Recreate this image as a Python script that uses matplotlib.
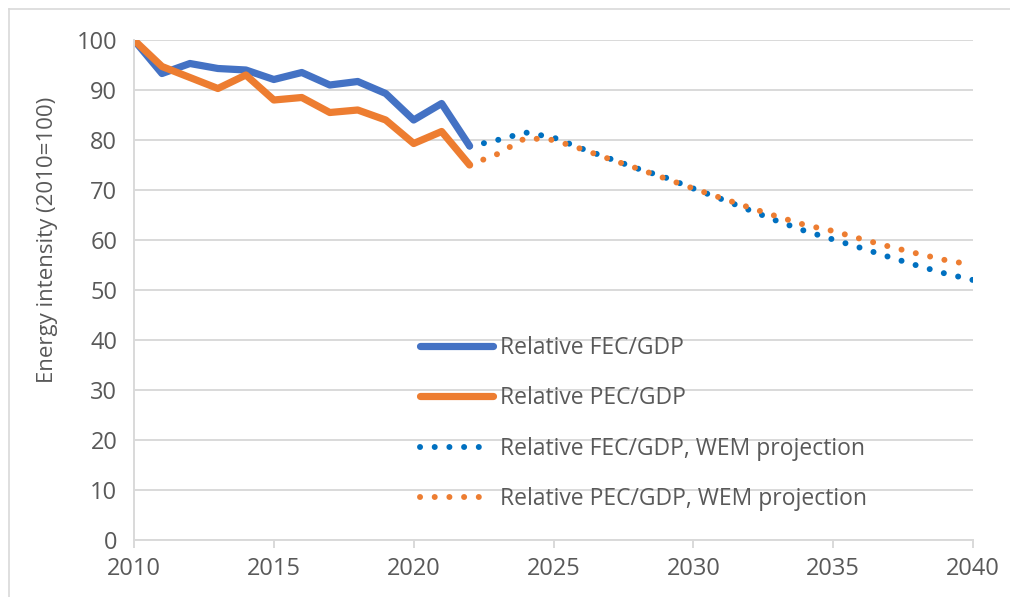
import matplotlib.pyplot as plt
from matplotlib.lines import Line2D

# historical series, 2010-2022
hist_years = list(range(2010, 2023))
fec_gdp = [100, 93.3, 95.3, 94.3, 94.0, 92.1, 93.5, 91.0, 91.7, 89.3, 84.0, 87.3, 78.8]
pec_gdp = [100, 94.7, 92.5, 90.3, 93.0, 88.0, 88.5, 85.5, 86.0, 84.0, 79.3, 81.7, 75.0]

# WEM projection, 2022-2040
proj_years = list(range(2022, 2041))
fec_wem = [78.7, 80.0, 81.5, 80.5, 78.3, 76.3, 74.3, 72.5, 70.3, 68.2, 66.0,
           63.8, 61.8, 60.1, 58.4, 56.6, 54.9, 53.3, 52.0]
pec_wem = [75.0, 77.2, 80.4, 80.0, 78.2, 76.2, 74.3, 72.3, 70.3, 68.4, 66.5,
           64.7, 63.0, 61.8, 60.2, 58.7, 57.3, 56.0, 55.0]

labels = ["Relative FEC/GDP", "Relative PEC/GDP",
          "Relative FEC/GDP, WEM projection", "Relative PEC/GDP, WEM projection"]

blue = '#4472C4'
blue_dot = '#0070C0'
orange = '#ED7D31'
grey_txt = '#595959'
grid_col = '#D9D9D9'

plt.rcParams['font.family'] = ['Open Sans', 'DejaVu Sans']

fig = plt.figure(figsize=(10.10, 5.97), dpi=100)
ax = fig.add_axes([134/1010, 57/597, 839/1010, 500/597])

dot_lw = 4.3
dots = (0, (0.01, 2.45))
ax.plot(proj_years, fec_wem, color=blue_dot, lw=dot_lw, ls=dots, dash_capstyle='round')
ax.plot(proj_years, pec_wem, color=orange, lw=dot_lw, ls=dots, dash_capstyle='round')
ax.plot(hist_years, fec_gdp, color=blue, lw=5.2, solid_capstyle='round', solid_joinstyle='round')
ax.plot(hist_years, pec_gdp, color=orange, lw=5.2, solid_capstyle='round', solid_joinstyle='round')

ax.set_xlim(2010, 2040)
ax.set_ylim(0, 100)
ax.set_xticks(range(2010, 2041, 5))
ax.set_yticks(range(0, 101, 10))
ax.grid(axis='y', color=grid_col, lw=1.4)
ax.set_axisbelow(True)
for s in ['top', 'right']:
    ax.spines[s].set_visible(False)
ax.spines['left'].set_color(grid_col)
ax.spines['bottom'].set_color(grid_col)
ax.spines['left'].set_linewidth(1.4)
ax.spines['bottom'].set_linewidth(1.4)
ax.tick_params(axis='y', length=0, pad=12, labelsize=17, labelcolor=grey_txt)
ax.tick_params(axis='x', length=6, width=1.4, color=grid_col, direction='out',
               pad=6, labelsize=17, labelcolor=grey_txt)

fig.text(48/1010, 1 - 240/597, "Energy intensity (2010=100)", rotation=90,
         ha='center', va='center', fontsize=16, color=grey_txt)

handles = [Line2D([], [], color=blue, lw=5.2, solid_capstyle='round'),
           Line2D([], [], color=orange, lw=5.2, solid_capstyle='round'),
           Line2D([], [], color=blue_dot, lw=dot_lw, ls=dots, dash_capstyle='round'),
           Line2D([], [], color=orange, lw=dot_lw, ls=dots, dash_capstyle='round')]
leg = ax.legend(handles, labels, loc='upper left', bbox_to_anchor=(420/1010, 1 - 336/597),
                bbox_transform=fig.transFigure, frameon=False, fontsize=16.5,
                borderpad=0, borderaxespad=0,
                handlelength=3.2, handletextpad=0.3, labelspacing=1.15)
for t in leg.get_texts():
    t.set_color(grey_txt)

# light frame around chart area (top and left visible)
fig.add_artist(Line2D([9/1010, 9/1010], [0, 1 - 9/597], transform=fig.transFigure,
                      color=grid_col, lw=1.2))
fig.add_artist(Line2D([9/1010, 1], [1 - 9/597, 1 - 9/597], transform=fig.transFigure,
                      color=grid_col, lw=1.2))

fig.savefig('out.png', dpi=100)
